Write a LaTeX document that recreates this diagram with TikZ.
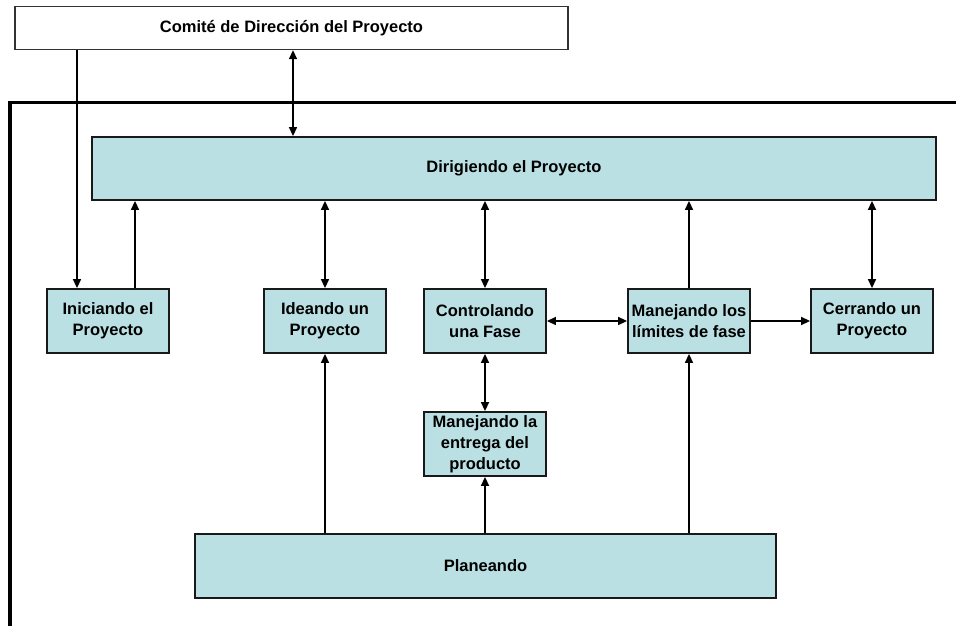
\documentclass[tikz,border=0pt]{standalone}
\usepackage{fontspec}
\setmainfont{Liberation Sans}
\usetikzlibrary{arrows.meta}
\definecolor{procfill}{RGB}{186,224,227}
\begin{document}
\begin{tikzpicture}[x=1pt,y=-1pt,
  >={Triangle[length=9pt,width=8pt]},
  every node/.style={font=\fontsize{16.5}{21}\selectfont\bfseries,align=center,inner sep=0pt},
  proc/.style={draw=black!90,line width=1.8pt,fill=procfill,minimum height=64pt},
  small/.style={proc,minimum width=122pt},
  link/.style={line width=1.5pt}]
\useasboundingbox (0,0) rectangle (956,626);

% outer boundary of the project environment
\draw[line width=3.5pt] (10,626) -- (10,102.5) -- (956,102.5);

% processes
\node[proc,fill=white,draw=black!80,line width=1.3pt,minimum width=553pt,minimum height=43pt] (com) at (291.5,28) {Comité de Dirección del Proyecto};
\node[proc,minimum width=844pt,minimum height=63pt] (dir) at (514,168.5) {Dirigiendo el Proyecto};
\node[small] (ini) at (108,321) {Iniciando el\\Proyecto};
\node[small] (ide) at (325,321) {Ideando un\\Proyecto};
\node[small] (con) at (485,321) {Controlando\\una Fase};
\node[small] (lim) at (689,321) {Manejando los\\límites de fase};
\node[small] (cer) at (872,321) {Cerrando un\\Proyecto};
\node[small] (ent) at (485,444) {Manejando la\\entrega del\\producto};
\node[proc,minimum width=581pt] (pla) at (485.5,566) {Planeando};

% connector anchors offset from box centres
\coordinate (iniIn) at ([xshift=-31pt]ini.north);
\coordinate (iniOut) at ([xshift=27pt]ini.north);
\coordinate (comOut) at ([xshift=1.5pt]com.south);

% flows
\draw[link,->] (iniIn |- com.south) -- (iniIn);
\draw[link,->] (iniOut) -- (iniOut |- dir.south);
\draw[link,<->] (comOut) -- (comOut |- dir.north);
\draw[link,<->] (ide.north) -- (ide.north |- dir.south);
\draw[link,<->] (con.north) -- (con.north |- dir.south);
\draw[link,->] (lim.north) -- (lim.north |- dir.south);
\draw[link,<->] (cer.north) -- (cer.north |- dir.south);
\draw[link,<->] (con.east) -- (lim.west);
\draw[link,->] (lim.east) -- (cer.west);
\draw[link,<->] (con.south) -- (ent.north);
\draw[link,->] (ide.south |- pla.north) -- (ide.south);
\draw[link,->] (ent.south |- pla.north) -- (ent.south);
\draw[link,->] (lim.south |- pla.north) -- (lim.south);
\end{tikzpicture}
\end{document}
